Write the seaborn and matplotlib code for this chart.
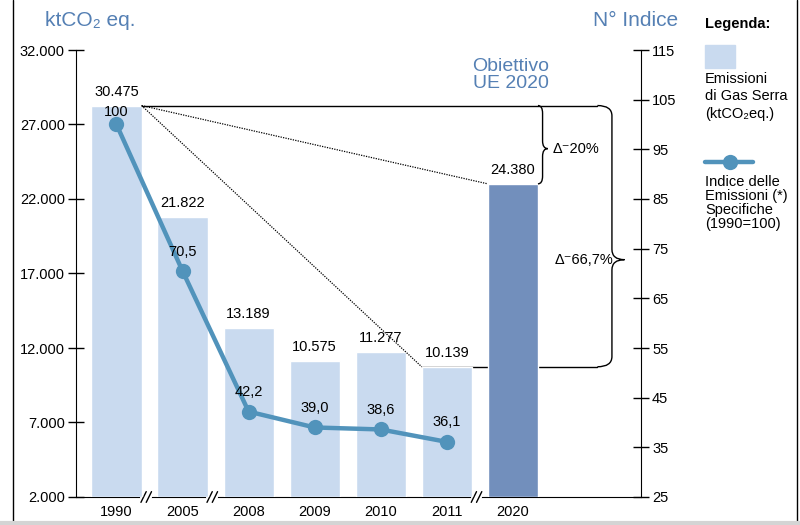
import numpy as np
import matplotlib
matplotlib.use("Agg")
import matplotlib.pyplot as plt
import matplotlib.transforms as mtransforms
from matplotlib.path import Path
from matplotlib.patches import PathPatch, Rectangle
from matplotlib.lines import Line2D
import seaborn as sns

# data
years = ["1990", "2005", "2008", "2009", "2010", "2011", "2020"]
emissions = [30475, 21822, 13189, 10575, 11277, 10139, 24380]   # ktCO2 eq.
index_years = ["1990", "2005", "2008", "2009", "2010", "2011"]
index_vals = [100, 70.5, 42.2, 39.0, 38.6, 36.1]                 # 1990=100
left_ticks = [2000, 7000, 12000, 17000, 22000, 27000, 32000]
right_ticks = [25, 35, 45, 55, 65, 75, 85, 95, 105, 115]

LIGHT = "#c9daef"
DARK = "#728fbc"
LINE = "#5193bb"
TITLE = "#5580b4"

sns.set_style("white")
plt.rcParams["font.family"] = ["Liberation Sans", "DejaVu Sans"]
plt.rcParams["text.color"] = "black"
plt.rcParams["xtick.color"] = "black"
plt.rcParams["ytick.color"] = "black"
plt.rcParams["axes.labelcolor"] = "black"

fig = plt.figure(figsize=(8, 5.25), dpi=100)
ax = fig.add_axes([76 / 800, 28 / 525, 565 / 800, 447 / 525])
axb = ax.twinx()   # bars (drawn from zero, as in the original)
axr = ax.twinx()   # index line

pos = list(range(len(years)))

# bars
sns.barplot(x=years, y=emissions, hue=years, palette=[LIGHT] * 6 + [DARK],
            saturation=1, width=0.76, legend=False, ax=axb, zorder=2)
axb.set_ylim(0, 34800)
axb.set_yticks([])
axb.set_ylabel("")
for s in axb.spines.values():
    s.set_visible(False)

# index line
ipos = [years.index(y) for y in index_years]
sns.lineplot(x=ipos, y=index_vals, ax=axr, color=LINE, lw=3.2,
             marker="o", markersize=11, markeredgewidth=0, zorder=5)
axr.set_ylim(25, 115)
axr.set_yticks(right_ticks)
axr.set_ylabel("")
axr.tick_params(axis="y", direction="inout", length=12, width=1, labelsize=10.5, pad=2)
for k, s in axr.spines.items():
    s.set_visible(k == "right")
axr.spines["right"].set_color("black")

# left axis
ax.set_ylim(2000, 32000)
ax.set_yticks(left_ticks, [f"{v:,}".replace(",", ".") for v in left_ticks])
ax.tick_params(axis="y", direction="inout", length=12, width=1, labelsize=10.5, pad=2)
ax.set_xlim(-0.613, 7.94)
ax.set_xticks(pos, years)
ax.tick_params(axis="x", length=0, labelsize=10.5, pad=6)
ax.set_xlabel("")
for k, s in ax.spines.items():
    s.set_visible(k in ("left", "bottom"))
    s.set_color("black")
ax.grid(False)
axb.grid(False)
axr.grid(False)

# value labels
for i, v in enumerate(emissions):
    axb.annotate(f"{v:,}".replace(",", "."), (i, v), xytext=(0, 5),
                 textcoords="offset points", ha="center", va="bottom", fontsize=10.5)
for i, (p, v) in enumerate(zip(ipos, index_vals)):
    lab = "100" if v == 100 else f"{v:.1f}".replace(".", ",")
    off = 9 if i == 0 else 14
    axr.annotate(lab, (p, v), xytext=(0, off), textcoords="offset points",
                 ha="center", va="center", fontsize=10.5, zorder=6)

# reference lines and braces
hw = 0.38
top, low, goal = emissions[0], emissions[5], emissions[6]
axb.plot([hw, 7.28], [top, top], color="black", lw=1, zorder=3)
axb.plot([5 - hw, 7.28], [low, low], color="black", lw=1, zorder=1)
axb.plot([hw, 6 - hw], [top, goal], color="black", lw=0.9, ls=(0, (1, 1)), zorder=3)
axb.plot([hw, 5 - hw], [top, low], color="black", lw=0.9, ls=(0, (1, 1)), zorder=3)


def brace(a, xs, xv, xt, y0, y1, frac, r):
    ym = y0 + (y1 - y0) * frac
    verts = [(xs, y1), (xv, y1), (xv, y1 - r), (xv, ym + r), (xv, ym), (xt, ym),
             (xv, ym), (xv, ym - r), (xv, y0 + r), (xv, y0), (xs, y0)]
    codes = [Path.MOVETO, Path.CURVE3, Path.CURVE3, Path.LINETO, Path.CURVE3, Path.CURVE3,
             Path.CURVE3, Path.CURVE3, Path.LINETO, Path.CURVE3, Path.CURVE3]
    a.add_patch(PathPatch(Path(verts, codes), fill=False, lw=1, color="black",
                          clip_on=False, zorder=3))
    return ym


ym1 = brace(axb, 6 + hw, 6.45, 6.53, goal, top, 0.45, 600)
ym2 = brace(axb, 7.28, 7.50, 7.69, low, top, 0.41, 800)
axb.text(6.60, ym1, "Δ⁻20%", ha="left", va="center", fontsize=10.5)
axb.text(6.64, ym2, "Δ⁻66,7%", ha="left", va="center", fontsize=10.5)

# axis breaks
bt = mtransforms.blended_transform_factory(ax.transData, ax.transAxes)
for xb in [0.45, 1.45, 5.45]:
    ax.plot([xb - 0.06, xb + 0.06], [0, 0], color="white", lw=3, transform=bt,
            clip_on=False, zorder=10)
    for dx in (-0.04, 0.04):
        ax.plot([xb + dx - 0.04, xb + dx + 0.04], [-0.012, 0.012], color="black",
                lw=1, transform=bt, clip_on=False, zorder=11)

# titles
fig.text(45 / 800, 1 - 20 / 525, "ktCO₂ eq.", fontsize=15, color=TITLE, va="center")
fig.text(678 / 800, 1 - 20 / 525, "N° Indice", fontsize=15, color=TITLE, va="center",
         ha="right")
fig.text(511 / 800, 1 - 75 / 525, "Obiettivo\nUE 2020", fontsize=14, color=TITLE,
         ha="center", va="center", linespacing=0.95)

# legend
fig.text(705 / 800, 1 - 24 / 525, "Legenda:", fontsize=10.5, fontweight="bold", va="center")
fig.add_artist(Rectangle((705 / 800, 1 - 68 / 525), 30 / 800, 23 / 525,
                         transform=fig.transFigure, color=LIGHT))
fig.text(705 / 800, 1 - 72 / 525, "Emissioni\ndi Gas Serra\n(ktCO₂eq.)", fontsize=10.5,
         va="top", linespacing=1.3)
fig.add_artist(Line2D([705 / 800, 753 / 800], [1 - 162 / 525] * 2, transform=fig.transFigure,
                      color=LINE, lw=3.2))
fig.add_artist(Line2D([730 / 800], [1 - 162 / 525], transform=fig.transFigure,
                      color=LINE, marker="o", markersize=11, markeredgewidth=0))
fig.text(705 / 800, 1 - 175 / 525, "Indice delle\nEmissioni (*)\nSpecifiche\n(1990=100)",
         fontsize=10.5, va="top", linespacing=1.0)

# frame
fig.add_artist(Line2D([13 / 800] * 2, [4 / 525, 1], transform=fig.transFigure, color="black", lw=1))
fig.add_artist(Line2D([797 / 800] * 2, [4 / 525, 1], transform=fig.transFigure, color="black", lw=1))
fig.add_artist(Line2D([0, 1], [2.5 / 525] * 2, transform=fig.transFigure, color="#d4d4d4", lw=3))

fig.savefig("out.png", dpi=100)
